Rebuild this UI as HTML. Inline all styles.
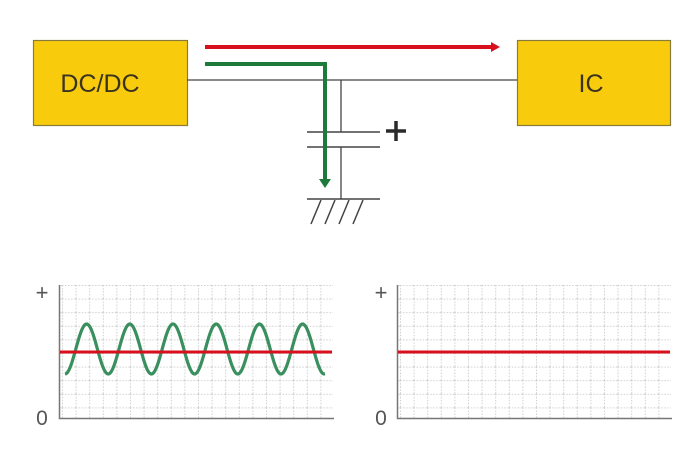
<!DOCTYPE html>
<html><head><style>html,body{margin:0;padding:0;background:#fff;width:700px;height:464px;overflow:hidden}</style></head>
<body>
<svg width="700" height="464" viewBox="0 0 700 464" xmlns="http://www.w3.org/2000/svg">
<defs>
<pattern id="g" x="62" y="285" width="13.6" height="13.6" patternUnits="userSpaceOnUse">
<path d="M0.5 0V13.6M0 0.5H13.6" stroke="#cfcfcf" stroke-width="1" stroke-dasharray="1.5 1.5" fill="none"/>
</pattern>
<pattern id="g2" x="400" y="285" width="13.6" height="13.6" patternUnits="userSpaceOnUse">
<path d="M0.5 0V13.6M0 0.5H13.6" stroke="#cfcfcf" stroke-width="1" stroke-dasharray="1.5 1.5" fill="none"/>
</pattern>
</defs>
<rect x="33.5" y="40.5" width="154" height="85" fill="#f8cc0c" stroke="#8a7a3a" stroke-width="1.2"/>
<text x="100" y="92" font-family="Liberation Sans, sans-serif" font-size="25" fill="#3a3320" text-anchor="middle">DC/DC</text>
<rect x="517.5" y="40.5" width="153" height="85" fill="#f8cc0c" stroke="#8a7a3a" stroke-width="1.2"/>
<text x="591" y="92" font-family="Liberation Sans, sans-serif" font-size="25" fill="#3a3320" text-anchor="middle">IC</text>
<path d="M187 80H517M341 80V132M341 147V199" stroke="#444" stroke-width="1.3" fill="none"/>
<path d="M307 132H380M307 147H380M307 199H380" stroke="#444" stroke-width="1.5" fill="none"/>
<path d="M321 200L311 224M335 200L325 224M349 200L339 224M363 200L353 224" stroke="#444" stroke-width="1.5"/>
<path d="M386 131H406M396 121V141" stroke="#2a2a2a" stroke-width="3.5"/>
<path d="M205 47H492" stroke="#d8101e" stroke-width="4"/>
<path d="M491 42L500 47L491 52Z" fill="#d8101e"/>
<path d="M205 64H325V180" stroke="#1d7a3a" stroke-width="4" fill="none"/>
<path d="M319 179L325 188L331 179Z" fill="#1d7a3a"/>
<rect x="60" y="285" width="273" height="133" fill="url(#g)"/>
<path d="M59.5 285V418.5H334" stroke="#777" stroke-width="1.5" fill="none"/>
<text x="42" y="300" font-family="Liberation Sans, sans-serif" font-size="22" fill="#555" text-anchor="middle">+</text>
<text x="42" y="425" font-family="Liberation Sans, sans-serif" font-size="21" fill="#555" text-anchor="middle">0</text>
<path id="s" fill="none" stroke="#3a8f5e" stroke-width="3.2" d=""/>
<path d="M60 352H332" stroke="#d8101e" stroke-width="3"/>
<rect x="398" y="285" width="273" height="133" fill="url(#g2)"/>
<path d="M397.5 285V418.5H672" stroke="#777" stroke-width="1.5" fill="none"/>
<text x="381" y="300" font-family="Liberation Sans, sans-serif" font-size="22" fill="#555" text-anchor="middle">+</text>
<text x="381" y="425" font-family="Liberation Sans, sans-serif" font-size="21" fill="#555" text-anchor="middle">0</text>
<path d="M398 352H670" stroke="#d8101e" stroke-width="3"/>
</svg>
<script>
var d="";for(var i=0;i<=260;i++){var x=65+i,y=349+25*Math.cos(2*Math.PI*i/43.2);d+=(i?"L":"M")+x+" "+y.toFixed(2);}
document.getElementById("s").setAttribute("d",d);
</script>
</body></html>
